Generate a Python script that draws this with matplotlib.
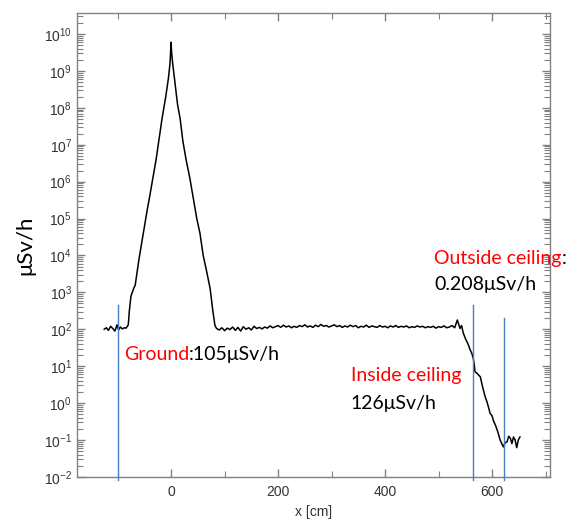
import numpy as np
import matplotlib.pyplot as plt
from matplotlib.ticker import LogLocator, MultipleLocator, NullFormatter

plt.rcParams["mathtext.fontset"] = "custom"
plt.rcParams["mathtext.rm"] = "Liberation Sans"
plt.rcParams["mathtext.it"] = "Liberation Sans"

# dose-rate profile along x (cm) ; values stored as log10(uSv/h)
x_cm = [
    -125, -121, -117, -113, -109, -105, -101, -98, -95, -91, -87, -84, -80,
    -78, -75, -70, -67, -60, -52, -45, -40, -34, -28, -22, -17, -10, -5, -2,
    0, 1, 3, 8, 12, 17, 22, 28, 35, 42, 48, 54, 60, 66, 73, 78, 82,
    85, 90, 95, 100, 105, 110, 115, 120, 125, 130, 135, 140, 145, 150, 155,
    160, 165, 170, 175, 180, 185, 190, 195, 200, 205, 210, 215, 220, 225,
    230, 235, 240, 245, 250, 255, 260, 265, 270, 275, 280, 285, 290, 295,
    300, 305, 310, 315, 320, 325, 330, 335, 340, 345, 350, 355, 360, 365,
    370, 375, 380, 385, 390, 395, 400, 405, 410, 415, 420, 425, 430, 435,
    440, 445, 450, 455, 460, 465, 470, 475, 480, 485, 490, 495, 500, 505,
    510, 515, 520, 525, 530, 535, 540,
    543, 546, 550, 555, 559, 562, 565, 567, 568, 572, 578, 582, 587, 590,
    594, 596, 600, 603, 606, 610, 615, 618, 621, 624, 628, 631, 634, 637,
    640, 643, 646, 649, 652,
]
log_dose = [
    2.00, 2.04, 1.97, 2.08, 2.02, 1.95, 2.12, 1.98, 2.06, 2.01, 2.04, 2.03, 2.12,
    2.50, 2.90, 3.10, 3.20, 3.90, 4.60, 5.20, 5.60, 6.10, 6.60, 7.20, 7.70, 8.30, 8.80, 9.20,
    9.78, 9.50, 9.20, 8.60, 8.10, 7.70, 7.10, 6.60, 6.10, 5.50, 5.00, 4.60, 4.00, 3.60, 3.10, 2.50, 2.10,
    2.02, 1.98, 2.04, 1.96, 2.03, 1.99, 2.06, 1.97, 2.05, 1.95, 2.07, 2.00, 2.04, 1.98, 2.08,
    2.02, 2.05, 2.01, 2.06, 2.03, 2.09, 2.04, 2.07, 2.10, 2.05, 2.11, 2.06, 2.09, 2.04,
    2.08, 2.05, 2.10, 2.07, 2.12, 2.06, 2.09, 2.05, 2.11, 2.07, 2.13, 2.08, 2.10, 2.06,
    2.09, 2.12, 2.07, 2.10, 2.05, 2.09, 2.06, 2.11, 2.07, 2.10, 2.04, 2.08, 2.06, 2.11,
    2.05, 2.09, 2.07, 2.05, 2.10, 2.06, 2.08, 2.04, 2.09, 2.06, 2.10, 2.05, 2.08, 2.06,
    2.09, 2.04, 2.07, 2.05, 2.09, 2.06, 2.08, 2.04, 2.07, 2.05, 2.08, 2.03, 2.07, 2.05,
    2.09, 2.04, 2.06, 2.10, 2.04, 2.25, 2.02,
    2.10, 1.90, 1.75, 1.60, 1.44, 1.35, 1.20, 1.00, 0.85, 0.80, 0.71, 0.45, 0.17, 0.05,
    -0.15, -0.27, -0.35, -0.50, -0.59, -0.75, -1.00, -1.10, -1.19, -1.08, -1.05, -0.90, -0.95, -1.10,
    -0.92, -1.00, -1.21, -1.00, -0.92,
]

# measurement positions (cm) and the top of each marker line (log10)
marker_x = [-100, 565, 622]
marker_top = [2.66, 2.66, 2.31]

fig = plt.figure(figsize=(5.74, 5.20), dpi=100)
ax = fig.add_axes([0.134, 0.083, 0.824, 0.892])

dose = 10.0 ** np.array(log_dose)
ax.plot(x_cm, dose, color="black", lw=1.1)

for xm, top in zip(marker_x, marker_top):
    ax.plot([xm, xm], [10 ** top, 10 ** -2.08], color="#4a7fc1", lw=1.0,
            clip_on=False, zorder=3)

ax.set_yscale("log")
ax.set_xlim(-176, 708)
ax.set_ylim(1e-2, 10 ** 10.57)

ax.yaxis.set_major_locator(LogLocator(base=10, numticks=20))
ax.yaxis.set_minor_locator(LogLocator(base=10, subs=np.arange(2, 10), numticks=20))
ax.yaxis.set_minor_formatter(NullFormatter())
ax.set_yticks([10.0 ** k for k in range(-2, 11)])
ax.xaxis.set_major_locator(MultipleLocator(200))
ax.xaxis.set_minor_locator(MultipleLocator(100))

grey = "#808080"
for sp in ax.spines.values():
    sp.set_color(grey)
    sp.set_linewidth(1.0)
ax.tick_params(which="both", direction="in", top=True, right=True,
               colors=grey, labelcolor="#333333", labelsize=10)
ax.tick_params(which="major", length=6, width=1.0)
ax.tick_params(which="minor", length=4, width=0.8)
ax.tick_params(axis="x", pad=6)
for lab in ax.get_xticklabels() + ax.get_yticklabels():
    lab.set_fontfamily("Liberation Sans")

ax.set_xlabel("x [cm]", fontsize=10, color="#333333", fontfamily="Liberation Sans",
              labelpad=4)
ax.set_ylabel("μSv/h", fontsize=16, fontfamily="Lato", labelpad=6)

FS = 14

# annotations: red location name, black reading
def label(xd, yd, red, black):
    t = ax.text(xd, yd, red, color="red", fontsize=FS, fontfamily="Lato",
                ha="left", va="center")
    if black:
        ax.annotate(black, xy=(1, 0), xycoords=t, color="black", fontsize=FS,
                    fontfamily="Lato", ha="left", va="bottom")
    return t

label(-88, 10 ** 1.31, "Ground", ":105μSv/h")
label(492, 10 ** 3.93, "Outside ceiling", ":")
ax.text(492, 10 ** 3.2, "0.208μSv/h", color="black", fontsize=FS,
        fontfamily="Lato", ha="left", va="center")
label(336, 10 ** 0.74, "Inside ceiling", "")
ax.text(336, 10 ** 0.0, "126μSv/h", color="black", fontsize=FS,
        fontfamily="Lato", ha="left", va="center")

fig.savefig("out.png", dpi=100)
